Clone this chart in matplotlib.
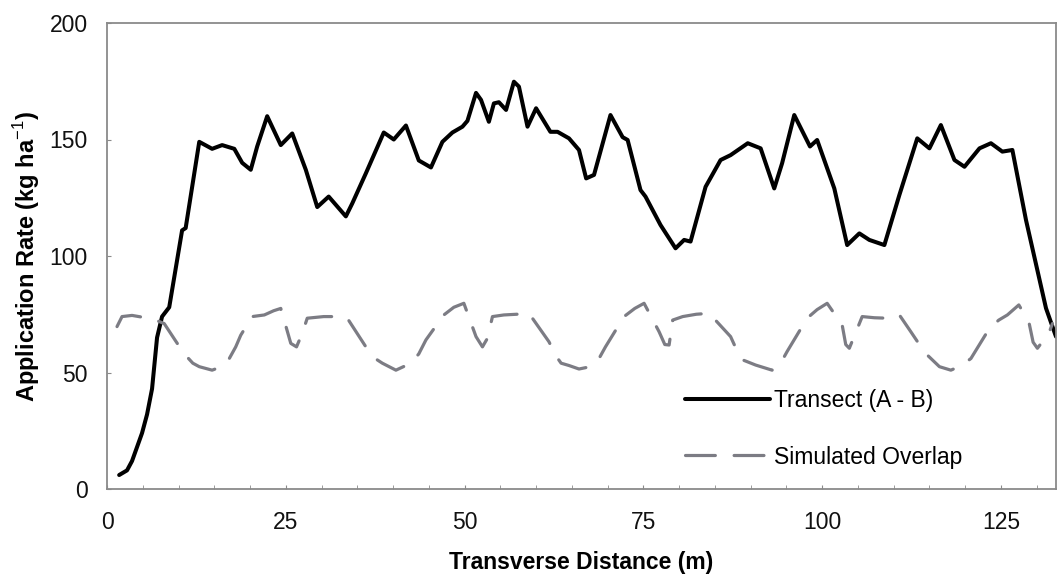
import matplotlib
matplotlib.use("Agg")
import matplotlib.pyplot as plt
from matplotlib.ticker import MultipleLocator

# ---- data ----
transect_x = [1.7, 2.8, 3.5, 4.9, 5.6, 6.3, 7.0, 7.7, 8.7, 10.5, 11.0, 12.9,
              14.7, 16.1, 17.8, 18.9, 20.1, 21.0, 22.4, 24.3, 25.9, 27.8, 29.4,
              31.0, 33.4, 34.3, 36.2, 38.7, 40.1, 41.8, 43.6, 45.3, 46.9, 48.3,
              49.7, 50.4, 51.6, 52.3, 53.4, 54.1, 54.8, 55.8, 56.9, 57.6, 58.8,
              60.0, 62.0, 63.0, 64.6, 66.0, 67.0, 68.1, 70.4, 72.1, 72.8, 74.6,
              75.3, 77.4, 79.5, 80.7, 81.6, 83.7, 85.8, 87.2, 89.6, 91.4, 93.3,
              94.4, 96.1, 98.3, 99.3, 101.7, 103.5, 105.2, 106.6, 108.7, 110.8,
              113.3, 115.0, 116.6, 118.5, 119.9, 122.0, 123.6, 125.2, 126.6,
              128.5, 131.3, 132.7]
transect_y = [6, 8, 12, 24, 32, 43, 65, 74, 78, 111, 112, 149,
              146, 147.6, 146, 140, 137, 147, 160, 147.6, 152.6, 137, 121,
              125.5, 117, 122.6, 135.5, 153, 150, 156, 141, 138, 149, 153,
              155.5, 158, 170, 167, 157.6, 165.5, 166, 162.7, 174.8, 172.7, 155.5,
              163.4, 153.3, 153.3, 150.5, 145.5, 133.3, 134.8, 160.5, 151, 149.8, 128.3,
              125.5, 113.3, 103.3, 106.9, 106.2, 129.7, 141.2, 143.3, 148.4, 146.2, 129,
              139.8, 160.5, 147, 149.8, 129, 104.7, 109.7, 106.9, 104.7, 126.2,
              150.5, 146.2, 156.2, 141.2, 138.3, 146.2, 148.4, 144.8, 145.5,
              115.5, 77.6, 65.4]

overlap_x = [1.4, 2.1, 3.5, 5.4, 6.8, 8.0, 9.5, 10.8, 12.0, 12.9, 14.7, 16.0,
             17.1, 18.0, 18.7, 20.3, 22.0, 23.3, 24.3, 25.7, 26.5, 27.3, 28.0,
             30.3, 32.0, 33.6, 36.2, 37.5, 38.5, 40.4, 42.5, 43.6, 44.6, 47.1,
             48.5, 49.9, 51.6, 52.5, 53.2, 53.9, 55.5, 57.3, 59.0, 61.8, 62.8,
             63.5, 64.6, 66.0, 67.6, 68.8, 69.7, 72.3, 73.8, 75.1, 77.2, 78.0,
             78.6, 79.1, 80.5, 82.4, 84.2, 87.2, 88.0, 88.9, 90.7, 93.0, 94.2,
             95.1, 97.9, 99.3, 100.7, 102.8, 103.3, 103.8, 105.6, 107.3, 109.1,
             110.8, 112.4, 113.6, 114.7, 116.4, 118.0, 119.5, 120.8, 123.4,
             124.7, 125.9, 127.5, 128.9, 129.5, 130.1, 131.7, 132.2]
overlap_y = [69.7, 74, 74.5, 73.5, 72.5, 71, 64, 58, 54, 52.5, 51, 52.5,
             56, 61, 66, 74, 74.7, 76.5, 77.5, 62.5, 61, 66.8, 73.3,
             74, 74, 73.3, 61, 56, 54, 51, 54, 58, 64, 74.7,
             78, 79.7, 65.4, 61, 64.7, 74, 74.7, 75, 75.4, 63.2, 57,
             54, 53, 51.5, 52.5, 56, 61, 74, 77.5, 79.7, 67.5, 62,
             61.8, 72.5, 74, 75, 75.4, 65.4, 60, 55.4, 53.2, 51, 54,
             59, 73.3, 77, 79.7, 70.4, 62, 60.4, 74, 73.5, 73.3,
             74.7, 67.5, 62, 57.5, 52.5, 51, 53, 56, 69,
             72.5, 74.7, 79, 71.8, 63, 60.4, 66.8, 71]

series_labels = ["Transect (A - B)", "Simulated Overlap"]
x_ticks = [0, 25, 50, 75, 100, 125]
y_ticks = [0, 50, 100, 150, 200]

# ---- style ----
plt.rcParams["font.family"] = ["Liberation Sans", "DejaVu Sans"]
plt.rcParams["mathtext.fontset"] = "custom"
plt.rcParams["mathtext.rm"] = "Liberation Sans"
plt.rcParams["mathtext.bf"] = "Liberation Sans:bold"
plt.rcParams["lines.scale_dashes"] = False

W, H = 1060, 578
fig = plt.figure(figsize=(W / 100, H / 100), dpi=100)
ax = fig.add_axes([107 / W, 1 - 489 / H, (1056 - 107) / W, (489 - 23) / H])

fs = 16.5
ax.plot(transect_x, transect_y, color="black", lw=2.9,
        solid_joinstyle="round", solid_capstyle="round", label=series_labels[0])
ax.plot(overlap_x, overlap_y, color="#7c7c84", lw=2.3,
        dashes=(21.5, 13.5), dash_capstyle="round", dash_joinstyle="round",
        label=series_labels[1])

ax.set_xlim(0, 132.7)
ax.set_ylim(0, 200)
ax.set_xticks(x_ticks)
ax.set_yticks(y_ticks)
ax.xaxis.set_minor_locator(MultipleLocator(5))

for s in ax.spines.values():
    s.set_color("#8a8a8a")
    s.set_linewidth(1.3)

ax.tick_params(axis="x", which="both", direction="in", length=3, color="#8a8a8a",
               labelsize=fs, pad=16, labelcolor="#111111")
ax.tick_params(axis="y", which="both", direction="in", length=3, color="#8a8a8a",
               labelsize=fs, pad=14, labelcolor="#111111")

ax.set_xlabel("Transverse Distance (m)", fontsize=fs, fontweight="bold", labelpad=12)
ax.set_ylabel(r"Application Rate (kg ha$^{-1}$)", fontsize=17, fontweight="bold",
              labelpad=5)

leg = ax.legend(loc="center left", bbox_to_anchor=(0.609, 0.129), frameon=False,
                fontsize=fs, handlelength=3.7, handletextpad=0.2,
                labelspacing=1.45, borderpad=0, borderaxespad=0)

fig.savefig("out.png", dpi=100)
